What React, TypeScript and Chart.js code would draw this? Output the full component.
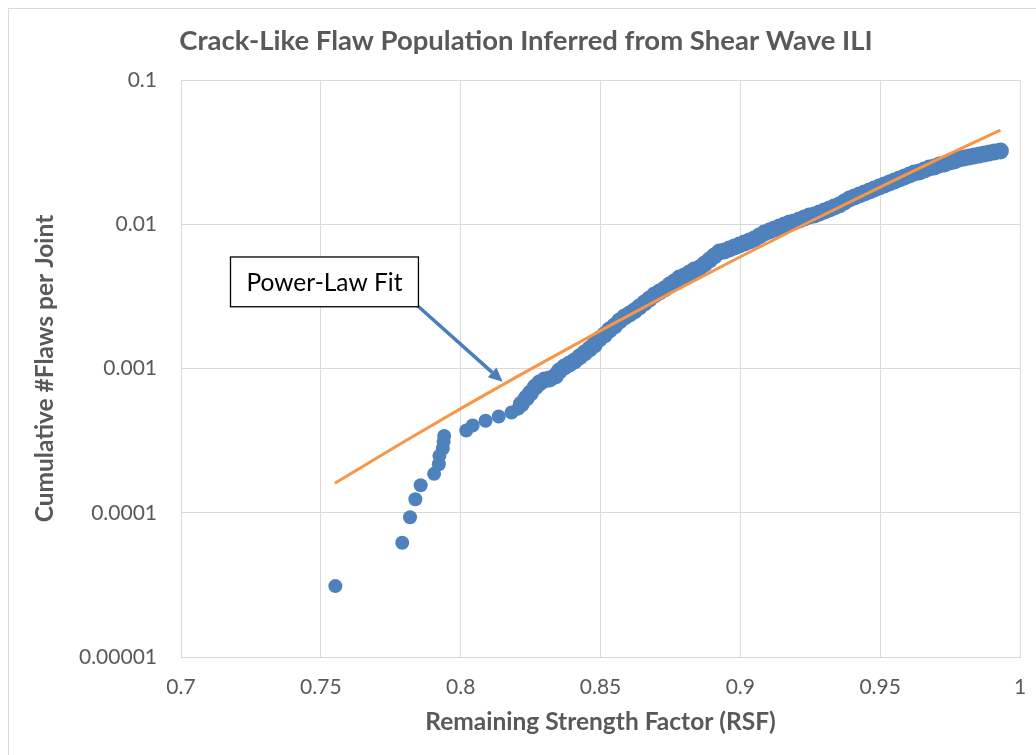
import { useEffect, useRef } from 'react';
import { Chart, registerables } from 'chart.js';
Chart.register(...registerables);

const titleText = 'Crack-Like Flaw Population Inferred from Shear Wave ILI';
const xAxisTitle = 'Remaining Strength Factor (RSF)';
const yAxisTitle = 'Cumulative #Flaws per Joint';
const calloutText = 'Power-Law Fit';

const xTickValues = [0.7, 0.75, 0.8, 0.85, 0.9, 0.95, 1];
const xTickLabels = ['0.7', '0.75', '0.8', '0.85', '0.9', '0.95', '1'];
const yTickValues = [0.00001, 0.0001, 0.001, 0.01, 0.1];
const yTickLabels = ['0.00001', '0.0001', '0.001', '0.01', '0.1'];

// Sparse low-RSF flaws
const rsfSparse = [0.7552, 0.7791, 0.7819, 0.7838, 0.7857, 0.7905, 0.7922, 0.7924, 0.7936, 0.7939, 0.7941, 0.802, 0.8043, 0.8089, 0.8136, 0.8182, 0.8206];
const flawsSparse = [3.1e-5, 6.2e-5, 9.3e-5, 1.24e-4, 1.55e-4, 1.86e-4, 2.17e-4, 2.48e-4, 2.79e-4, 3.1e-4, 3.41e-4, 3.72e-4, 4.03e-4, 4.34e-4, 4.65e-4, 4.96e-4, 5.27e-4];

// Dense band of flaws
const rsfDense = [
  0.8217, 0.8235, 0.825, 0.8267, 0.8282, 0.83, 0.8318, 0.8339, 0.8353, 0.8371,
  0.8389, 0.8407, 0.8425, 0.8443, 0.8461, 0.8478, 0.8496, 0.8514, 0.8532, 0.855,
  0.8568, 0.8586, 0.8604, 0.8621, 0.8639, 0.8657, 0.8675, 0.8693, 0.8711, 0.8729,
  0.8747, 0.8764, 0.8782, 0.88, 0.8818, 0.8836, 0.8854, 0.8872, 0.889, 0.8907,
  0.8925, 0.8943, 0.8961, 0.8979, 0.8997, 0.9015, 0.9033, 0.905, 0.9068, 0.9086,
  0.9104, 0.9122, 0.914, 0.9158, 0.9176, 0.9193, 0.9211, 0.9229, 0.9247, 0.9265,
  0.9283, 0.9301, 0.9319, 0.9336, 0.9354, 0.9372, 0.939, 0.9408, 0.9426, 0.9444,
  0.9462, 0.9479, 0.9497, 0.9515, 0.9533, 0.9551, 0.9569, 0.9587, 0.9605, 0.9622,
  0.964, 0.9658, 0.9676, 0.9694, 0.9712, 0.973, 0.9748, 0.9765, 0.9783, 0.9801,
  0.9819, 0.9837, 0.9855, 0.9873, 0.9891, 0.9909, 0.993,
];
const flawsDense = [
  5.67e-4, 6.25e-4, 6.76e-4, 7.44e-4, 7.93e-4, 8.32e-4, 8.46e-4, 8.87e-4, 9.61e-4, 1.024e-3,
  1.074e-3, 1.127e-3, 1.201e-3, 1.281e-3, 1.365e-3, 1.456e-3, 1.601e-3, 1.707e-3, 1.849e-3, 1.971e-3,
  2.135e-3, 2.275e-3, 2.387e-3, 2.504e-3, 2.669e-3, 2.845e-3, 3.033e-3, 3.232e-3, 3.391e-3, 3.557e-3,
  3.792e-3, 3.978e-3, 4.241e-3, 4.378e-3, 4.592e-3, 4.817e-3, 4.974e-3, 5.302e-3, 5.652e-3, 6.023e-3,
  6.42e-3, 6.523e-3, 6.734e-3, 6.953e-3, 7.179e-3, 7.413e-3, 7.653e-3, 7.902e-3, 8.289e-3, 8.695e-3,
  8.978e-3, 9.27e-3, 9.57e-3, 9.88e-3, 0.0102, 0.01036, 0.0107, 0.01105, 0.0114, 0.01159,
  0.01197, 0.01236, 0.01276, 0.01317, 0.0136, 0.01426, 0.01496, 0.01545, 0.01595, 0.01647,
  0.017, 0.01756, 0.01813, 0.01871, 0.01932, 0.01995, 0.0206, 0.02126, 0.02195, 0.02267,
  0.02303, 0.02378, 0.02455, 0.02494, 0.02575, 0.02616, 0.02701, 0.02744, 0.02834, 0.02879,
  0.02925, 0.02972, 0.03019, 0.03069, 0.03118, 0.03168, 0.03219,
];

// Power-law fit curve
const fitRsf = [0.755, 0.78, 0.8, 0.82, 0.85, 0.875, 0.9, 0.925, 0.95, 0.97, 0.993];
const fitFlaws = [1.6e-4, 3.13e-4, 5.27e-4, 8.75e-4, 1.83e-3, 3.33e-3, 5.95e-3, 0.01045, 0.0181, 0.0278, 0.045];

// Callout placement (data units)
const callout = { left: 0.7177, right: 0.7849, top: 5.93e-3, bottom: 2.68e-3, tipX: 0.815, tipY: 8.1e-4 };

const GRAY = '#595959';
const GRID = '#d9d9d9';
const BLUE = '#4F81BD';
const ORANGE = '#F79646';
const FONT = 'Lato';

const chromePlugin = {
  id: 'chrome',
  beforeDraw(chart: any) {
    const { ctx, width, height } = chart;
    ctx.save();
    ctx.fillStyle = '#ffffff';
    ctx.fillRect(0, 0, width, height);
    ctx.strokeStyle = GRID;
    ctx.lineWidth = 1;
    ctx.strokeRect(8.5, 8.5, width + 40, height + 40);
    // chart title
    ctx.fillStyle = GRAY;
    ctx.font = `bold 27.5px ${FONT}`;
    ctx.textAlign = 'center';
    ctx.textBaseline = 'middle';
    ctx.fillText(titleText, 526, 41);
    ctx.restore();
  },
  afterDatasetsDraw(chart: any) {
    const { ctx } = chart;
    const xs = chart.scales.x;
    const ys = chart.scales.y;
    const bx0 = xs.getPixelForValue(callout.left);
    const bx1 = xs.getPixelForValue(callout.right);
    const by0 = ys.getPixelForValue(callout.top);
    const by1 = ys.getPixelForValue(callout.bottom);
    const tx = xs.getPixelForValue(callout.tipX);
    const ty = ys.getPixelForValue(callout.tipY);
    ctx.save();
    const ang = Math.atan2(ty - by1, tx - bx1);
    const headLen = 14;
    const headHalf = 6.5;
    const baseX = tx - headLen * Math.cos(ang);
    const baseY = ty - headLen * Math.sin(ang);
    ctx.strokeStyle = '#4A7EBB';
    ctx.fillStyle = '#4A7EBB';
    ctx.lineWidth = 3.5;
    ctx.beginPath();
    ctx.moveTo(bx1 - 2, by1 - 2);
    ctx.lineTo(baseX, baseY);
    ctx.stroke();
    ctx.beginPath();
    ctx.moveTo(tx, ty);
    ctx.lineTo(baseX + headHalf * Math.sin(ang), baseY - headHalf * Math.cos(ang));
    ctx.lineTo(baseX - headHalf * Math.sin(ang), baseY + headHalf * Math.cos(ang));
    ctx.closePath();
    ctx.fill();
    ctx.fillStyle = '#ffffff';
    ctx.fillRect(bx0, by0, bx1 - bx0, by1 - by0);
    ctx.strokeStyle = '#000000';
    ctx.lineWidth = 1.3;
    ctx.strokeRect(bx0, by0, bx1 - bx0, by1 - by0);
    ctx.fillStyle = '#000000';
    ctx.font = `24.5px ${FONT}`;
    ctx.textAlign = 'center';
    ctx.textBaseline = 'middle';
    ctx.fillText(calloutText, (bx0 + bx1) / 2, (by0 + by1) / 2 + 1);
    ctx.restore();
  },
};

export default function App() {
  const ref = useRef<HTMLCanvasElement>(null);
  useEffect(() => {
    if (!ref.current) return;
    Chart.defaults.font.family = FONT;
    const sparse = rsfSparse.map((x, i) => ({ x, y: flawsSparse[i] }));
    const dense = rsfDense.map((x, i) => ({ x, y: flawsDense[i] })).filter((p) => p.y !== undefined);
    const fit = fitRsf.map((x, i) => ({ x, y: fitFlaws[i] }));
    const chart = new Chart(ref.current, {
      type: 'scatter',
      data: {
        datasets: [
          {
            label: 'Power-Law Fit',
            data: fit,
            showLine: true,
            borderColor: ORANGE,
            borderWidth: 3,
            pointRadius: 0,
            fill: false,
          },
          {
            label: 'Flaws (dense)',
            data: dense,
            backgroundColor: BLUE,
            borderColor: BLUE,
            borderWidth: 0,
            pointRadius: 8.5,
          },
          {
            label: 'Flaws',
            data: sparse,
            backgroundColor: BLUE,
            borderColor: BLUE,
            borderWidth: 0,
            pointRadius: 7,
          },
        ],
      },
      options: {
        animation: false,
        responsive: false,
        devicePixelRatio: 1,
        layout: { padding: { top: 80, left: 0, right: 16, bottom: 0 } },
        plugins: {
          legend: { display: false },
          tooltip: { enabled: false },
          title: { display: false },
        },
        scales: {
          x: {
            type: 'linear',
            min: 0.7,
            max: 1,
            afterBuildTicks: (s: any) => {
              s.ticks = xTickValues.map((v) => ({ value: v }));
            },
            afterFit: (s: any) => {
              s.height = 98;
              s.paddingLeft = 0;
              s.paddingRight = 0;
            },
            ticks: {
              callback: (_v: any, i: number) => xTickLabels[i],
              color: GRAY,
              font: { family: FONT, size: 21 },
              padding: 18,
              maxRotation: 0,
              autoSkip: false,
            },
            grid: { color: GRID, drawTicks: false },
            border: { color: GRID },
            title: {
              display: true,
              text: xAxisTitle,
              color: GRAY,
              font: { family: FONT, size: 24.5, weight: 'bold', lineHeight: '28px' },
              padding: { top: 0, bottom: 19 },
            },
          },
          y: {
            type: 'logarithmic',
            min: 0.00001,
            max: 0.1,
            afterBuildTicks: (s: any) => {
              s.ticks = yTickValues.map((v) => ({ value: v }));
            },
            afterFit: (s: any) => {
              s.width = 181;
              s.paddingTop = 0;
              s.paddingBottom = 0;
            },
            ticks: {
              callback: (_v: any, i: number) => yTickLabels[i],
              color: GRAY,
              font: { family: FONT, size: 21 },
              padding: 24,
              autoSkip: false,
            },
            grid: { color: GRID, drawTicks: false },
            border: { color: GRID },
            title: {
              display: true,
              text: yAxisTitle,
              color: GRAY,
              font: { family: FONT, size: 24.5, weight: 'bold', lineHeight: '28px' },
              padding: { top: 31, bottom: 0 },
            },
          },
        },
      },
      plugins: [chromePlugin],
    } as any);
    return () => chart.destroy();
  }, []);
  return (
    <div style={{ position: 'fixed', left: 0, top: 0, width: 1036, height: 755, overflow: 'hidden' }}>
      <canvas ref={ref} width={1036} height={755} style={{ width: 1036, height: 755, display: 'block' }} />
    </div>
  );
}
